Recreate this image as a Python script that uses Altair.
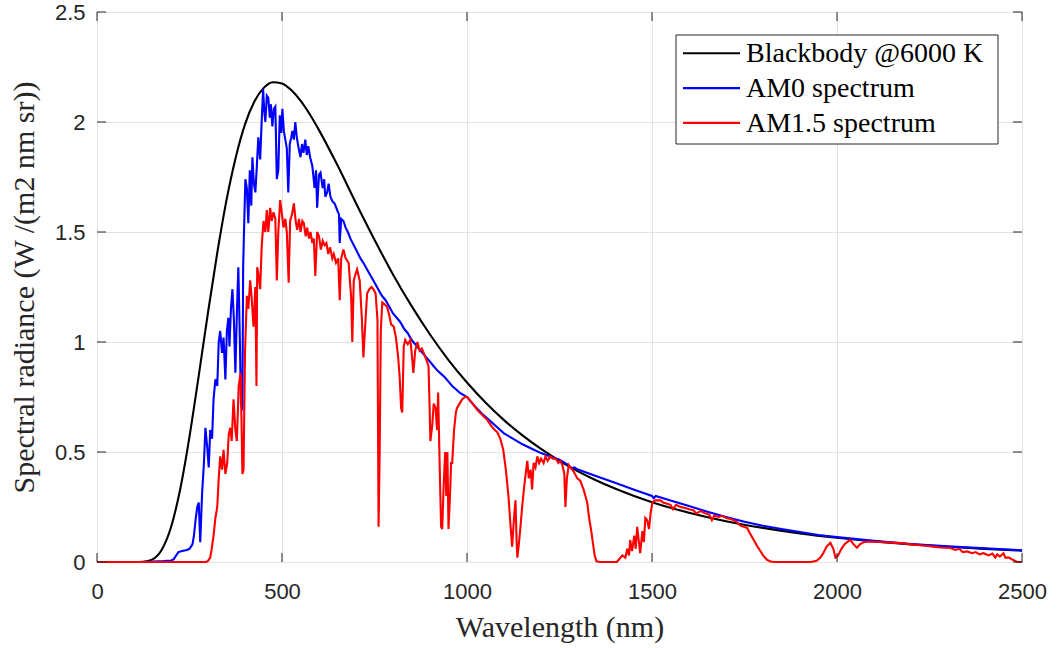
import altair as alt
import pandas as pd

# ---------------- data ----------------
X_TICKS = [0, 500, 1000, 1500, 2000, 2500]
Y_TICKS = [0, 0.5, 1, 1.5, 2, 2.5]
SERIES = ["Blackbody @6000 K", "AM0 spectrum", "AM1.5 spectrum"]
COLORS = ["#000000", "#0000ff", "#ff0000"]

BB_WL = [0, 50, 100, 125, 150, 175, 200, 225, 250, 275, 300, 325, 350, 375, 400,
         425, 450, 475, 500, 525, 550, 575, 600, 650, 700, 750, 800, 850, 900, 950,
         1000, 1050, 1100, 1150, 1200, 1250, 1300, 1350, 1400, 1450, 1500, 1600,
         1700, 1800, 1900, 2000, 2100, 2200, 2300, 2400, 2500]
BB_VAL = [0, 0, 0.0, 0.0013, 0.0122, 0.0559, 0.158, 0.332, 0.570, 0.847, 1.134,
          1.405, 1.645, 1.839, 1.989, 2.092, 2.154, 2.181, 2.175, 2.145, 2.097,
          2.035, 1.963, 1.803, 1.631, 1.465, 1.307, 1.164, 1.034, 0.918, 0.816,
          0.725, 0.645, 0.5755, 0.514, 0.460, 0.412, 0.3706, 0.334, 0.301, 0.272,
          0.224, 0.1854, 0.155, 0.130, 0.110, 0.0936, 0.0802, 0.0690, 0.0597, 0.0519]

AM0_WL = [0, 100, 122, 150, 180, 200, 207, 212, 220, 230, 243, 250, 258, 262, 267,
          271, 275, 279, 284, 289, 293, 298, 302, 306, 311, 315, 320, 325, 329, 333,
          338, 342, 347, 351, 355, 358, 362, 366, 370, 374, 378, 382, 386, 389, 393,
          395, 398, 401, 405, 409, 413, 417, 420, 424, 428, 432, 436, 441, 445, 449,
          452, 455, 459, 463, 467, 470, 474, 478, 482, 486, 490, 494, 498, 501, 505,
          509, 513, 517, 521, 525, 528, 532, 536, 540, 544, 550, 554, 558, 563, 567,
          571, 576, 582, 588, 592, 595, 600, 604, 610, 614, 617, 622, 626, 631, 636,
          642, 649, 654, 656, 660, 666, 672, 678, 685, 694, 703, 712, 720, 730, 740,
          750, 760, 770, 780, 790, 800, 810, 820, 830, 840, 850, 860, 870, 880, 890,
          900, 910, 920, 930, 940, 950, 960, 970, 980, 990, 1000, 1020, 1040, 1060,
          1080, 1100, 1125, 1150, 1175, 1200, 1225, 1250, 1275, 1282, 1290, 1300,
          1350, 1400, 1450, 1500, 1505, 1510, 1550, 1600, 1650, 1700, 1750, 1800,
          1850, 1900, 1950, 2000, 2100, 2200, 2300, 2400, 2500]
AM0_VAL = [0, 0, 0, 0.002, 0.004, 0.007, 0.012, 0.025, 0.045, 0.05, 0.055, 0.06,
           0.08, 0.12, 0.20, 0.25, 0.27, 0.09, 0.31, 0.45, 0.61, 0.52, 0.43, 0.60,
           0.56, 0.74, 0.83, 0.80, 1.00, 1.05, 0.95, 1.02, 0.83, 1.05, 1.11, 0.98,
           1.15, 1.24, 1.10, 0.86, 1.13, 1.34, 1.02, 0.72, 0.69, 1.34, 1.55, 1.74,
           1.70, 1.54, 1.78, 1.62, 1.84, 1.72, 1.68, 1.80, 1.93, 1.83, 2.00, 2.15,
           2.05, 2.00, 2.12, 2.11, 2.02, 2.08, 1.98, 2.06, 2.07, 1.74, 1.78, 2.03,
           1.95, 2.06, 1.96, 1.92, 1.88, 1.68, 1.90, 1.93, 1.96, 1.92, 2.00, 1.93,
           1.89, 1.84, 1.90, 1.86, 1.92, 1.85, 1.89, 1.84, 1.80, 1.70, 1.78, 1.61,
           1.76, 1.77, 1.70, 1.74, 1.66, 1.68, 1.72, 1.66, 1.64, 1.63, 1.60, 1.58,
           1.45, 1.56, 1.55, 1.52, 1.50, 1.47, 1.44, 1.41, 1.38, 1.36, 1.33, 1.30,
           1.27, 1.24, 1.21, 1.19, 1.16, 1.13, 1.11, 1.09, 1.06, 1.04, 1.01, 0.99,
           0.97, 0.95, 0.93, 0.91, 0.89, 0.87, 0.855, 0.84, 0.82, 0.80, 0.785, 0.77,
           0.76, 0.75, 0.71, 0.675, 0.645, 0.615, 0.585, 0.56, 0.535, 0.515, 0.495,
           0.48, 0.465, 0.44, 0.425, 0.43, 0.42, 0.39, 0.36, 0.33, 0.30, 0.29, 0.30,
           0.28, 0.255, 0.228, 0.205, 0.183, 0.165, 0.15, 0.136, 0.123, 0.113, 0.096,
           0.082, 0.071, 0.062, 0.053]

AM15_WL = [0, 280, 295, 300, 306, 310, 315, 320, 325, 329, 333, 338, 342, 347, 352,
           356, 360, 364, 369, 374, 378, 383, 388, 391, 393, 396, 400, 405, 409, 414,
           418, 423, 428, 431, 433, 437, 441, 445, 450, 455, 459, 463, 468, 472, 477,
           482, 486, 490, 495, 500, 504, 509, 513, 518, 522, 527, 532, 537, 541, 546,
           550, 555, 559, 564, 568, 573, 577, 582, 586, 590, 595, 600, 605, 610, 615,
           620, 625, 630, 636, 640, 646, 652, 656, 660, 666, 672, 680, 687, 690, 694,
           699, 703, 710, 716, 720, 724, 730, 736, 742, 747, 753, 758, 761, 764, 767,
           771, 778, 784, 790, 795, 802, 808, 814, 818, 822, 825, 829, 833, 840, 847,
           851, 855, 860, 866, 872, 878, 883, 890, 896, 899, 901, 906, 910, 915, 919,
           922, 926, 930, 933, 937, 941, 944, 947, 950, 954, 957, 960, 965, 970, 973,
           980, 987, 995, 1001, 1010, 1020, 1028, 1040, 1055, 1065, 1075, 1082, 1090,
           1098, 1105, 1112, 1117, 1122, 1127, 1131, 1134, 1136, 1140, 1144, 1149,
           1155, 1160, 1163, 1167, 1172, 1176, 1180, 1185, 1190, 1195, 1200, 1207,
           1212, 1218, 1225, 1232, 1240, 1247, 1252, 1258, 1263, 1266, 1270, 1275,
           1279, 1285, 1292, 1298, 1306, 1315, 1320, 1325, 1330, 1335, 1340, 1345,
           1350, 1360, 1405, 1410, 1420, 1428, 1433, 1438, 1441, 1446, 1452, 1456,
           1460, 1464, 1468, 1474, 1478, 1482, 1487, 1492, 1496, 1501, 1508, 1514,
           1523, 1530, 1541, 1550, 1557, 1565, 1577, 1590, 1600, 1612, 1620, 1631,
           1645, 1655, 1662, 1668, 1680, 1690, 1700, 1712, 1721, 1730, 1739, 1748,
           1757, 1765, 1775, 1785, 1793, 1800, 1811, 1820, 1830, 1930, 1945, 1955,
           1963, 1972, 1982, 1990, 1996, 2003, 2012, 2020, 2027, 2036, 2045, 2054,
           2062, 2072, 2082, 2100, 2126, 2150, 2171, 2200, 2217, 2240, 2260, 2280,
           2306, 2320, 2330, 2340, 2352, 2365, 2375, 2385, 2396, 2410, 2420, 2428,
           2433, 2440, 2450, 2455, 2465, 2475, 2487, 2500]
AM15_VAL = [0, 0, 0.0, 0.005, 0.02, 0.06, 0.12, 0.20, 0.25, 0.38, 0.48, 0.42, 0.51,
            0.40, 0.45, 0.58, 0.61, 0.55, 0.74, 0.60, 0.55, 0.80, 0.86, 0.60, 0.40,
            0.42, 0.95, 1.21, 1.15, 1.28, 1.20, 1.07, 1.25, 0.80, 1.34, 1.30, 1.24,
            1.43, 1.55, 1.50, 1.60, 1.50, 1.61, 1.55, 1.59, 1.56, 1.28, 1.50, 1.645,
            1.58, 1.52, 1.56, 1.50, 1.27, 1.55, 1.58, 1.63, 1.55, 1.51, 1.56, 1.50,
            1.55, 1.54, 1.48, 1.52, 1.47, 1.50, 1.45, 1.47, 1.30, 1.50, 1.48, 1.42,
            1.46, 1.44, 1.45, 1.40, 1.43, 1.38, 1.40, 1.36, 1.38, 1.19, 1.38, 1.42,
            1.38, 1.36, 1.20, 1.00, 1.28, 1.31, 1.33, 1.28, 1.10, 0.93, 1.05, 1.22,
            1.24, 1.25, 1.24, 1.22, 1.10, 0.16, 0.50, 1.05, 1.18, 1.17, 1.16, 1.12,
            1.08, 1.07, 1.02, 0.93, 0.84, 0.70, 0.68, 0.98, 1.01, 0.99, 1.01, 0.94,
            0.86, 0.96, 1.00, 0.96, 0.97, 0.95, 0.92, 0.89, 0.70, 0.55, 0.62, 0.72,
            0.70, 0.60, 0.77, 0.45, 0.16, 0.15, 0.35, 0.50, 0.30, 0.50, 0.15, 0.30,
            0.45, 0.45, 0.60, 0.68, 0.70, 0.72, 0.74, 0.75, 0.75, 0.73, 0.71, 0.69,
            0.67, 0.645, 0.62, 0.60, 0.59, 0.56, 0.51, 0.42, 0.30, 0.18, 0.07, 0.20,
            0.28, 0.10, 0.02, 0.08, 0.15, 0.25, 0.35, 0.42, 0.46, 0.38, 0.42, 0.33,
            0.45, 0.43, 0.48, 0.45, 0.47, 0.45, 0.48, 0.46, 0.48, 0.47, 0.47, 0.45,
            0.46, 0.44, 0.40, 0.25, 0.38, 0.44, 0.43, 0.42, 0.40, 0.38, 0.37, 0.33,
            0.30, 0.27, 0.20, 0.15, 0.09, 0.03, 0.003, 0, 0, 0.01, 0.03, 0.02, 0.06,
            0.03, 0.10, 0.05, 0.12, 0.06, 0.16, 0.10, 0.04, 0.14, 0.09, 0.20, 0.19,
            0.15, 0.22, 0.27, 0.28, 0.28, 0.28, 0.27, 0.265, 0.26, 0.24, 0.26, 0.25,
            0.245, 0.24, 0.235, 0.22, 0.232, 0.22, 0.215, 0.19, 0.21, 0.205, 0.21,
            0.20, 0.195, 0.19, 0.18, 0.165, 0.16, 0.155, 0.13, 0.10, 0.07, 0.05, 0.03,
            0.01, 0.002, 0, 0, 0.005, 0.02, 0.04, 0.07, 0.087, 0.06, 0.02, 0.03, 0.06,
            0.08, 0.09, 0.10, 0.08, 0.065, 0.08, 0.09, 0.092, 0.092, 0.09, 0.088,
            0.086, 0.08, 0.077, 0.074, 0.07, 0.066, 0.064, 0.055, 0.06, 0.045, 0.048,
            0.04, 0.045, 0.035, 0.04, 0.03, 0.038, 0.02, 0.035, 0.025, 0.04, 0.02,
            0.02, 0.01, 0.0, 0.0]

# ---------------- chart ----------------
W, H = 925, 550
TICK_LEN = 9
AXIS_COLOR = "#262626"


def frame(wl, val):
    return pd.DataFrame({"wl": wl, "val": val})


x_scale = alt.Scale(domain=[0, 2500], nice=False)
y_scale = alt.Scale(domain=[0, 2.5], nice=False)

x_enc = alt.X(
    "wl:Q", scale=x_scale, title="Wavelength (nm)",
    axis=alt.Axis(values=X_TICKS, format="d", ticks=False, domain=False, grid=True,
                  labelFont="Liberation Sans", labelFontSize=22, labelColor=AXIS_COLOR,
                  labelPadding=19, titleFont="Liberation Serif", titleFontSize=30,
                  titleFontWeight="normal", titleColor=AXIS_COLOR, titlePadding=10,
                  labelFlush=False),
)
y_enc = alt.Y(
    "val:Q", scale=y_scale, title="Spectral radiance (W /(m2 nm sr))",
    axis=alt.Axis(values=Y_TICKS, format="~g", ticks=False, domain=False, grid=True,
                  labelFont="Liberation Sans", labelFontSize=22, labelColor=AXIS_COLOR,
                  labelPadding=12, titleFont="Liberation Serif", titleFontSize=30,
                  titleFontWeight="normal", titleColor=AXIS_COLOR, titlePadding=15,
                  labelFlush=False),
)

bb = alt.Chart(frame(BB_WL, BB_VAL)).mark_line(
    strokeWidth=2.1, color=COLORS[0], interpolate="monotone").encode(x=x_enc, y=y_enc)
am0 = alt.Chart(frame(AM0_WL, AM0_VAL)).mark_line(
    strokeWidth=2.1, color=COLORS[1]).encode(x=x_enc, y=y_enc)
am15 = alt.Chart(frame(AM15_WL, AM15_VAL)).mark_line(
    strokeWidth=2.1, color=COLORS[2]).encode(x=x_enc, y=y_enc)

# inward tick marks on all four sides (MATLAB style box)
xt_df = pd.DataFrame({"wl": X_TICKS})
yt_df = pd.DataFrame({"val": Y_TICKS})
rule = dict(color=AXIS_COLOR, strokeWidth=1)
ticks_bottom = alt.Chart(xt_df).mark_rule(**rule).encode(
    x=alt.X("wl:Q", scale=x_scale), y=alt.value(H), y2=alt.value(H - TICK_LEN))
ticks_top = alt.Chart(xt_df).mark_rule(**rule).encode(
    x=alt.X("wl:Q", scale=x_scale), y=alt.value(0), y2=alt.value(TICK_LEN))
ticks_left = alt.Chart(yt_df).mark_rule(**rule).encode(
    y=alt.Y("val:Q", scale=y_scale), x=alt.value(0), x2=alt.value(TICK_LEN))
ticks_right = alt.Chart(yt_df).mark_rule(**rule).encode(
    y=alt.Y("val:Q", scale=y_scale), x=alt.value(W), x2=alt.value(W - TICK_LEN))

# legend box (drawn by hand so that rows are as tight as in the reference)
LEG_X0, LEG_X1, LEG_Y0, LEG_Y1 = 579, 901, 23, 132
SYM_X0, SYM_X1, TXT_X = 586, 643, 649
ROW_Y0, ROW_STEP, BASE_OFF = 41.3, 34.8, 8.6

legend_layers = [
    alt.Chart(pd.DataFrame({"k": [0]})).mark_rect(
        fill="white", stroke=AXIS_COLOR, strokeWidth=1).encode(
        x=alt.value(LEG_X0), x2=alt.value(LEG_X1), y=alt.value(LEG_Y0), y2=alt.value(LEG_Y1))
]
for i, (name, col) in enumerate(zip(SERIES, COLORS)):
    yc = ROW_Y0 + i * ROW_STEP
    legend_layers.append(
        alt.Chart(pd.DataFrame({"series": [name]})).mark_rule(
            color=col, strokeWidth=2.1).encode(
            x=alt.value(SYM_X0), x2=alt.value(SYM_X1), y=alt.value(yc)))
    legend_layers.append(
        alt.Chart(pd.DataFrame({"series": [name]})).mark_text(
            align="left", baseline="alphabetic", font="Liberation Serif",
            fontSize=28, color="#000000").encode(
            x=alt.value(TXT_X), y=alt.value(yc + BASE_OFF), text="series:N"))

chart = alt.layer(
    bb, am0, am15, ticks_bottom, ticks_top, ticks_left, ticks_right, *legend_layers
).properties(
    width=W, height=H,
    autosize=alt.AutoSizeParams(type="none"),
    padding={"left": 97, "top": 12, "right": 37, "bottom": 86},
    background="white",
).configure_view(
    stroke=AXIS_COLOR, strokeWidth=1
).configure_axis(
    gridColor="#e3e3e3", gridWidth=1, gridOpacity=1
)

chart.save("out.html", embed_options={"renderer": "svg", "actions": False})
